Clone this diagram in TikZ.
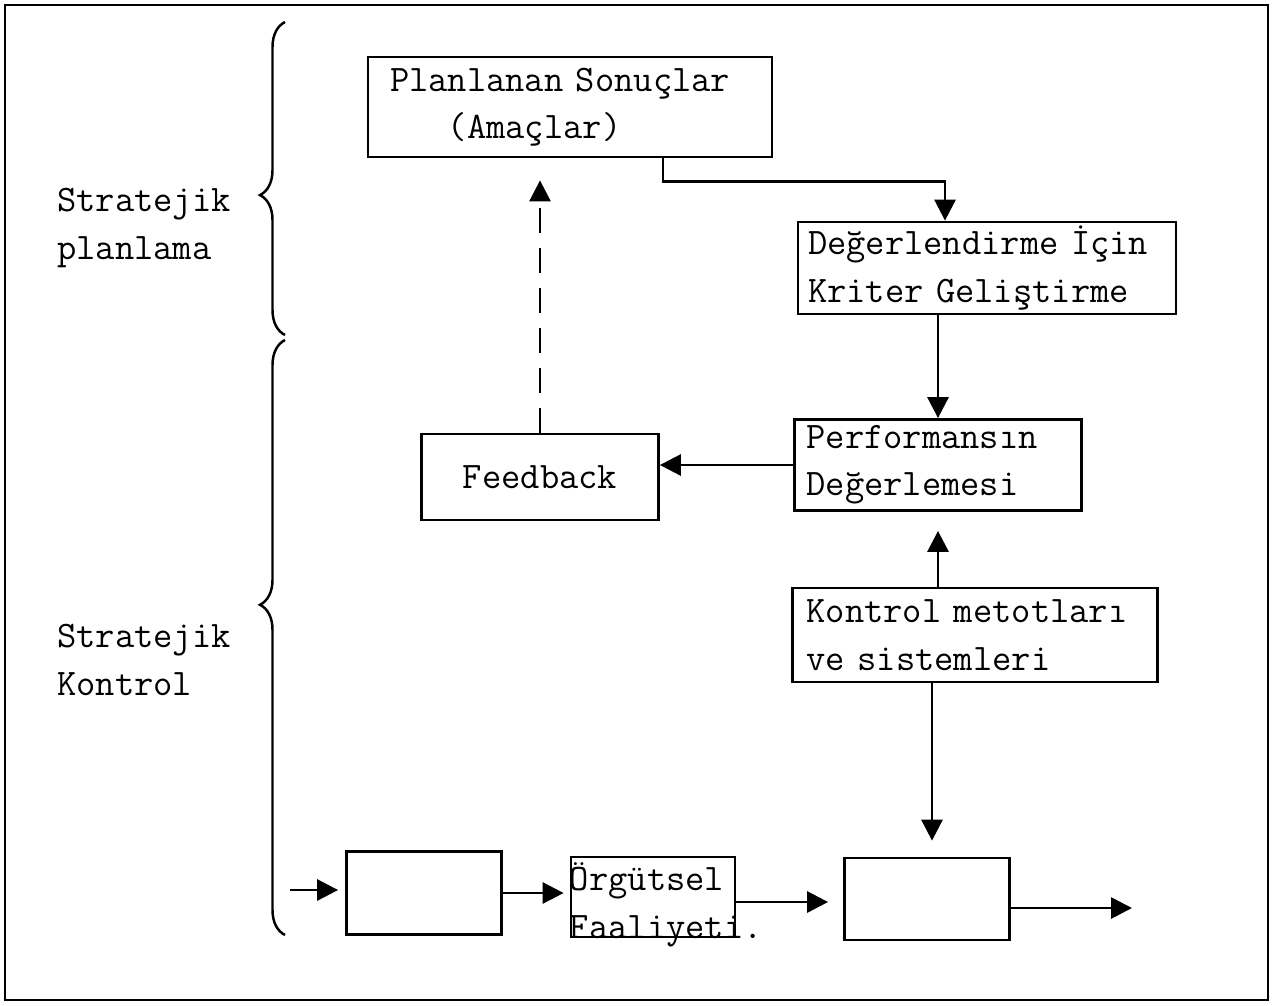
\documentclass[tikz,border=0pt]{standalone}
\usepackage{fontspec}
\usetikzlibrary{arrows.meta,decorations.pathreplacing}
\tikzset{
    %Define standard arrow tip
    >={Triangle[length=0.42cm,width=0.42cm]},
    %Define style for boxes
    blok/.style={
           rectangle,
           draw=black, line width=1.6pt,
           font=\ttfamily\fontsize{21.3}{27}\selectfont,
           align=left,
           inner ysep=0pt,
           },
    bos/.style={
           rectangle,
           draw=black, line width=1.6pt,
           minimum width=3.2cm,
           minimum height=1.64cm,
           },
    yazi/.style={
           font=\ttfamily\fontsize{21.3}{27}\selectfont,
           align=left,
           inner sep=0pt,
           },
    % Define arrow style
    ok/.style={
           ->,
           line width=1.6pt,},
    kume/.style={
           decorate,
           line width=1.4pt,
           decoration={brace, amplitude=0.5cm},}
}
\begin{document}
\begin{tikzpicture}[x=0.02cm,y=-0.02cm]
\useasboundingbox (0,0) rectangle (1281,1005);
\draw[line width=1pt] (5,5) rectangle (1268,1000);
% upper part
\node[blok, text width=7.2cm, inner xsep=0.44cm, minimum height=2cm](plan) at (570,107)
    {Planlanan Sonuçlar\\\phantom{Pla}(Amaçlar)};
\node[blok, text width=7.16cm, inner xsep=0.2cm, minimum height=1.84cm](deg) at (987,268)
    {Değerlendirme İçin\\Kriter Geliştirme};
\node[blok, text width=5.26cm, inner xsep=0.24cm, minimum height=1.82cm](perf) at (938,465)
    {Performansın\\Değerlemesi};
\node[blok, text width=4.14cm, inner xsep=0.3cm, minimum height=1.72cm, align=center](fb) at (540,477)
    {\raisebox{-0.3cm}{Feedback}};
\node[blok, text width=6.74cm, inner xsep=0.28cm, minimum height=1.88cm](kon) at (975,635)
    {Kontrol metotları\\ve sistemleri};
% lower row
\node[bos, minimum width=3.1cm, minimum height=1.66cm](b1) at (424,893){};
\node[bos, minimum width=3.28cm, minimum height=1.6cm](org) at (653,897){};
\node[yazi, anchor=west](orgyazi) at ([yshift=-0.16cm]org.west){Örgütsel\\Faaliyeti.};
\node[bos, minimum width=3.3cm, minimum height=1.64cm](b3) at (927,899){};
\coordinate (giris) at (290,890);
\coordinate (cikis) at (1132,908);
% labels
\node[yazi, anchor=west](sp) at (57,228){Stratejik\\planlama};
\node[yazi, anchor=west](sk) at (57,660){Stratejik\\Kontrol};
\draw[kume, decoration={aspect=0.447}] (285,335) -- (285,22);
\draw[kume, decoration={aspect=0.555}] (285,935) -- (285,340);
% connectors
\draw[ok] ([xshift=1.86cm]plan.south) -- ++(0,-0.46cm) -| ([xshift=-0.84cm]deg.north);
\draw[ok] (perf.north |- deg.south) -- (perf.north);
\draw[ok] (perf.west) -- (perf.west -| fb.east);
\draw[ok, dash pattern=on 0.5cm off 0.3cm, shorten >=0.44cm] (fb.north) -- (fb.north |- plan.south);
\draw[ok, shorten >=0.38cm] (perf.south |- kon.north) -- (perf.south);
\draw[ok, shorten >=0.32cm] ([xshift=0.1cm]b3.north |- kon.south) -- ([xshift=0.1cm]b3.north);
\draw[ok, shorten >=0.14cm] (giris) -- (giris -| b1.west);
\draw[ok, shorten >=0.12cm] (b1.east) -- (b1.east -| org.west);
\draw[ok, shorten >=0.3cm] ([yshift=-0.1cm]org.east) -- ([yshift=-0.1cm]org.east -| b3.west);
\draw[ok] (b3.east |- cikis) -- (cikis);
\end{tikzpicture}
\end{document}
